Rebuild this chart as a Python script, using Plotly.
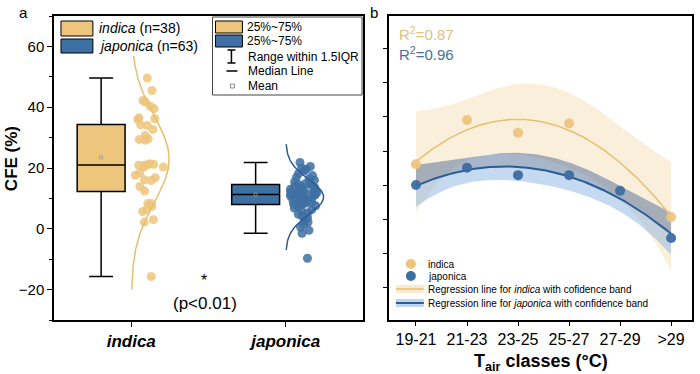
import numpy as np
import plotly.graph_objects as go

# ---------------- data ----------------
groups = ["indica", "japonica"]
n_counts = [38, 63]

indica_cfe = [49.6, 45.5, 42.2, 41.7, 40.3, 39.5, 36.2, 35.9, 36.5, 34.2,
              34.0, 32.7, 30.7, 29.6, 29.4, 29.1, 21.2, 21.4, 20.9, 20.3,
              21.1, 20.3, 18.3, 17.6, 16.1, 16.8, 15.9, 13.9, 12.4, 8.3,
              8.3, 7.4, 5.7, 6.3, 2.2, 3.0, -15.7, 20.9]

japonica_cfe = [21.8, 20.5, 20.0, 19.6, 19.0, 18.2, 17.5, 17.0, 16.5, 16.0,
                15.5, 15.0, 14.8, 14.6, 14.2,
                14.0, 13.8, 13.5, 13.2, 13.0, 12.8, 12.6, 12.5, 12.2, 12.0,
                11.9, 11.7, 11.6, 11.5, 11.4, 11.3, 11.3,
                11.0, 10.8, 10.5, 10.3, 10.0, 9.8, 9.5, 9.3, 9.0, 8.8,
                8.6, 8.4, 8.2, 8.1, 8.0,
                7.6, 7.2, 6.8, 6.3, 5.8, 5.2, 4.8, 4.2, 3.6, 3.0,
                2.2, 1.5, 0.5, -0.5, -1.5, -9.7]

box_q1 = [12.3, 8.0]
box_median = [21.0, 11.3]
box_q3 = [34.3, 14.6]
box_lower = [-15.7, -1.5]
box_upper = [49.6, 21.8]
box_mean = [23.5, 11.2]

tair_classes = ["19-21", "21-23", "23-25", "25-27", "27-29", ">29"]
indica_tair = [16.1, 29.1, 25.4, 28.1, None, 0.6]
japonica_tair = [10.0, 15.1, 12.9, 12.9, 8.3, -5.6]
r2_values = ["0.87", "0.96"]

# ---------------- styling ----------------
GOLD = "rgb(237,197,125)"
GOLD_LINE = "rgb(232,190,112)"
BLUE = "rgb(62,112,163)"
BLUE_LINE = "rgb(42,92,150)"
FONT = "Arial, 'Liberation Sans', sans-serif"

W, H = 700, 374
L, R, T, B = 54, 6, 16, 54
PW, PH = W - L - R, H - T - B


def px(x):
    return (x - L) / PW


def py(y):
    return (H - B - y) / PH


fig = go.Figure()

# ---------------- panel a ----------------
box_off = -0.195
box_w = 0.31
vals = [indica_cfe, japonica_cfe]
cols = [GOLD, BLUE]
line_cols = [GOLD_LINE, BLUE_LINE]
pt_widths = [0.22, 0.25]

for i in range(2):
    fig.add_trace(go.Box(
        x=[i + box_off], q1=[box_q1[i]], median=[box_median[i]], q3=[box_q3[i]],
        lowerfence=[box_lower[i]], upperfence=[box_upper[i]],
        width=box_w, fillcolor=cols[i], line=dict(color="black", width=1.5),
        whiskerwidth=0.5, boxpoints=False, showlegend=False,
        xaxis="x", yaxis="y", hoverinfo="skip"))

for i in range(2):
    fig.add_trace(go.Box(
        y=vals[i], x0=i, width=pt_widths[i], boxpoints="all", jitter=1.0,
        pointpos=1.0, fillcolor="rgba(0,0,0,0)",
        line=dict(color="rgba(0,0,0,0)", width=0),
        marker=dict(color=cols[i], size=9, opacity=0.85),
        showlegend=False, xaxis="x", yaxis="y", hoveron="points"))

# normal distribution curves derived from the data
for i in range(2):
    v = np.array(vals[i], dtype=float)
    mu, sd = v.mean(), v.std(ddof=1)
    yg = np.linspace(mu - 3 * sd, mu + 3 * sd, 200)
    pdf = np.exp(-0.5 * ((yg - mu) / sd) ** 2)
    fig.add_trace(go.Scatter(
        x=i + 0.245 * pdf, y=yg, mode="lines",
        line=dict(color=line_cols[i], width=1.5),
        showlegend=False, xaxis="x", yaxis="y", hoverinfo="skip"))

fig.add_trace(go.Scatter(
    x=[i + box_off for i in range(2)], y=box_mean, mode="markers",
    marker=dict(symbol="square-open", size=3, color="#999",
                line=dict(width=0.8, color="#999")),
    showlegend=False, xaxis="x", yaxis="y", hoverinfo="skip"))

# ---------------- panel b ----------------
T95 = {1: 12.706, 2: 4.303, 3: 3.182, 4: 2.776, 5: 2.571}
xi = np.arange(len(tair_classes), dtype=float)


def quad_fit(yvals):
    y = np.array([np.nan if v is None else v for v in yvals], dtype=float)
    m = ~np.isnan(y)
    x, y = xi[m], y[m]
    X = np.vstack([np.ones_like(x), x, x ** 2]).T
    beta = np.linalg.lstsq(X, y, rcond=None)[0]
    res = y - X @ beta
    dof = len(y) - 3
    s2 = res @ res / dof
    inv = np.linalg.inv(X.T @ X)
    xg = np.linspace(x.min(), x.max(), 150)
    G = np.vstack([np.ones_like(xg), xg, xg ** 2]).T
    fit = G @ beta
    se = np.sqrt(s2 * np.einsum("ij,jk,ik->i", G, inv, G))
    t = T95[dof]
    return xg, fit, fit - t * se, fit + t * se


xg_i, fit_i, lo_i, hi_i = quad_fit(indica_tair)
xg_j, fit_j, lo_j, hi_j = quad_fit(japonica_tair)

fig.add_trace(go.Scatter(
    x=np.concatenate([xg_i, xg_i[::-1]]), y=np.concatenate([hi_i, lo_i[::-1]]),
    fill="toself", fillcolor="rgba(237,197,125,0.28)", line=dict(width=0),
    mode="lines", showlegend=False, xaxis="x2", yaxis="y2", hoverinfo="skip"))
fig.add_trace(go.Scatter(
    x=np.concatenate([xg_j, xg_j[::-1]]), y=np.concatenate([hi_j, fit_j[::-1]]),
    fill="toself", fillcolor="rgba(80,110,150,0.5)", line=dict(width=0),
    mode="lines", showlegend=False, xaxis="x2", yaxis="y2", hoverinfo="skip"))
fig.add_trace(go.Scatter(
    x=np.concatenate([xg_j, xg_j[::-1]]), y=np.concatenate([fit_j, lo_j[::-1]]),
    fill="toself", fillcolor="rgba(140,180,228,0.5)", line=dict(width=0),
    mode="lines", showlegend=False, xaxis="x2", yaxis="y2", hoverinfo="skip"))
fig.add_trace(go.Scatter(
    x=xg_i, y=fit_i, mode="lines", line=dict(color=GOLD_LINE, width=1.5),
    showlegend=False, xaxis="x2", yaxis="y2"))
fig.add_trace(go.Scatter(
    x=xg_j, y=fit_j, mode="lines", line=dict(color=BLUE_LINE, width=2),
    showlegend=False, xaxis="x2", yaxis="y2"))
fig.add_trace(go.Scatter(
    x=xi, y=indica_tair, mode="markers",
    marker=dict(color=GOLD, size=10, opacity=0.95),
    showlegend=False, xaxis="x2", yaxis="y2"))
fig.add_trace(go.Scatter(
    x=xi, y=japonica_tair, mode="markers",
    marker=dict(color="rgb(60,110,160)", size=10, opacity=0.95),
    showlegend=False, xaxis="x2", yaxis="y2"))

# ---------------- legends (drawn) ----------------
shapes = []
annos = []


def rect(x0, y0, x1, y1, fill, line="black", lw=1):
    shapes.append(dict(type="rect", xref="paper", yref="paper",
                       x0=px(x0), x1=px(x1), y0=py(y1), y1=py(y0),
                       fillcolor=fill, line=dict(color=line, width=lw),
                       layer="above"))


def seg(x0, y0, x1, y1, color="black", lw=1.5):
    shapes.append(dict(type="line", xref="paper", yref="paper",
                       x0=px(x0), x1=px(x1), y0=py(y0), y1=py(y1),
                       line=dict(color=color, width=lw), layer="above"))


def text(x, y, s, size, color="black", xanchor="left", angle=0):
    annos.append(dict(x=px(x), y=py(y), xref="paper", yref="paper", text=s,
                      showarrow=False, xanchor=xanchor, yanchor="middle",
                      textangle=angle, font=dict(size=size, color=color, family=FONT)))


# legend 1 (panel a, top-left)
rect(58, 18, 200, 56, "white", line="rgba(0,0,0,0)", lw=0)
rect(61, 21, 93, 36, GOLD)
rect(61, 39, 93, 53, BLUE)
text(97, 28.5, "<i>%s</i> (n=%d)" % (groups[0], n_counts[0]), 14)
text(97, 46, "<i>%s</i> (n=%d)" % (groups[1], n_counts[1]), 14)

# legend 2 (panel a, top-right, framed)
rect(213, 17, 363, 95, "white", line="#444", lw=1)
rect(216, 21, 243, 33, GOLD)
rect(216, 35, 243, 47, BLUE)
seg(232, 50, 232, 63)
seg(228, 50, 236, 50)
seg(228, 63, 236, 63)
seg(227, 71, 238, 71)
rect(231, 84, 235, 88, "rgba(0,0,0,0)", line="#888", lw=1)
text(246, 27, "25%~75%", 12)
text(246, 41, "25%~75%", 12)
text(247, 57, "Range within 1.5IQR", 12)
text(247, 71, "Median Line", 12)
text(247, 86, "Mean", 12)

# legend panel b (bottom-left)
shapes.append(dict(type="circle", xref="paper", yref="paper",
                   x0=px(407), x1=px(417), y0=py(269), y1=py(259),
                   fillcolor=GOLD, line=dict(width=0), layer="above"))
shapes.append(dict(type="circle", xref="paper", yref="paper",
                   x0=px(407), x1=px(417), y0=py(281), y1=py(271),
                   fillcolor="rgb(60,110,160)", line=dict(width=0), layer="above"))
rect(397, 285, 425, 293, "rgba(237,197,125,0.35)", line="rgba(0,0,0,0)", lw=0)
seg(397, 289, 425, 289, GOLD_LINE, 1.5)
rect(397, 299, 425, 307, "rgba(140,180,228,0.55)", line="rgba(0,0,0,0)", lw=0)
seg(397, 303, 425, 303, BLUE_LINE, 2)
text(427, 264, groups[0], 10)
text(427, 276, groups[1], 10)
text(427, 289, "Regression line for <i>indica</i> with cofidence band", 10)
text(427, 303, "Regression line for <i>japonica</i> with confidence band", 10)

# other annotations
text(23, 13, "a", 15, xanchor="center")
text(375, 13, "b", 15, xanchor="center")
text(204, 280, "*", 16, xanchor="center")
text(205, 303, "(p<0.01)", 17, xanchor="center")
text(398, 33, "R<sup>2</sup>=" + r2_values[0], 15, color="rgb(226,192,126)")
text(398, 53, "R<sup>2</sup>=" + r2_values[1], 15, color="rgb(72,112,152)")
text(11, 159, "<b>CFE (%)</b>", 17, xanchor="center", angle=-90)
text(543, 362, "<b>T<sub>air</sub> classes (°C)</b>", 18, xanchor="center")

axis_common = dict(showline=True, linecolor="black", linewidth=1.5, mirror=True,
                   showgrid=False, zeroline=False, ticks="outside",
                   tickcolor="black", tickwidth=1.2)

fig.update_layout(
    width=W, height=H,
    margin=dict(l=L, r=R, t=T, b=B),
    paper_bgcolor="white", plot_bgcolor="white",
    font=dict(family=FONT, color="black"),
    boxmode="overlay", showlegend=False,
    xaxis=dict(domain=[0, px(364)], range=[-0.5, 1.5], tickvals=[0, 1],
               ticktext=["<b><i>%s</i></b>" % g for g in groups],
               ticklen=5, tickfont=dict(size=17), anchor="y", **axis_common),
    yaxis=dict(domain=[0, 1], range=[-30, 70], tick0=0, dtick=20, ticklen=5,
               tickfont=dict(size=15), anchor="x",
               minor=dict(ticks="outside", dtick=10, ticklen=3, tickcolor="black"),
               **axis_common),
    xaxis2=dict(domain=[px(390), 1], range=[-0.53, 5.41],
                tickvals=list(range(len(tair_classes))), ticktext=tair_classes,
                ticklen=4, tickfont=dict(size=16), anchor="y2", **axis_common),
    yaxis2=dict(domain=[0, 1], range=[-29.7, 59.7], tick0=0, dtick=10, ticklen=4,
                showticklabels=False, anchor="x2", **axis_common),
    shapes=shapes, annotations=annos,
)

fig.write_html("out.html", config={"displayModeBar": False},
               post_script="document.body.style.margin='0';document.body.style.padding='0';")
